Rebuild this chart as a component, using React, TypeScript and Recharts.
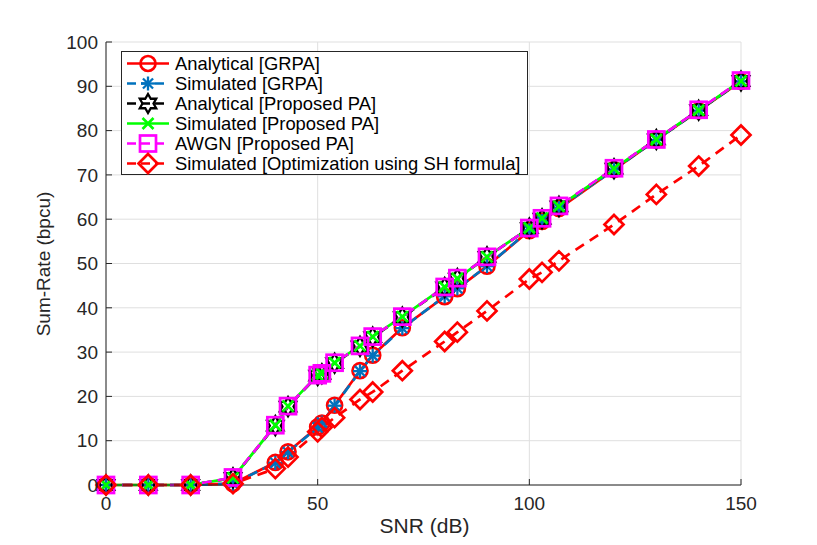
import React from 'react';
import { LineChart, Line, XAxis, YAxis, CartesianGrid, Legend, Label } from 'recharts';

// SNR points (dB)
const snr = [0, 10, 20, 30, 40, 43, 50, 51, 54, 60, 63, 70, 80, 83, 90, 100, 103, 107, 120, 130, 140, 150];

// sum-rate values (bpcu)
const analyticalGrpa = [0, 0, 0, 0.3, 5.1, 7.5, 13.1, 14.0, 18.0, 25.8, 29.3, 35.5, 42.5, 44.3, 49.4, 57.4, 59.5, 62.4, 71.2, 77.9, 84.5, 91.1];
const simulatedGrpa = [0, 0, 0, 0.3, 5.0, 7.4, 13.0, 14.1, 17.9, 25.7, 29.2, 35.4, 42.6, 44.4, 49.4, 57.5, 59.6, 62.5, 71.2, 77.9, 84.5, 91.1];
const analyticalProposed = [0, 0, 0, 1.6, 13.4, 17.7, 24.7, 25.1, 27.5, 31.3, 33.4, 37.9, 44.6, 46.6, 51.5, 58.0, 60.1, 62.9, 71.4, 78.0, 84.6, 91.2];
const simulatedProposed = [0, 0, 0, 1.6, 13.5, 17.8, 24.8, 25.1, 27.6, 31.4, 33.5, 38.0, 44.7, 46.6, 51.5, 58.0, 60.2, 62.9, 71.4, 78.0, 84.6, 91.2];
const awgnProposed = [0, 0, 0, 1.7, 13.5, 17.8, 24.8, 25.2, 27.6, 31.4, 33.5, 38.0, 44.7, 46.7, 51.5, 58.0, 60.2, 63.0, 71.5, 78.0, 84.7, 91.3];
const shFormula = [0, 0, 0, 0.3, 3.7, 6.3, 12.0, 13.0, 15.2, 19.3, 21.0, 25.8, 32.4, 34.5, 39.3, 46.5, 48.0, 50.6, 58.8, 65.6, 72.0, 79.0];

const xTicks = [0, 50, 100, 150];
const yTicks = [0, 10, 20, 30, 40, 50, 60, 70, 80, 90, 100];

const data = snr.map((s, i) => ({
  snr: s,
  agrpa: analyticalGrpa[i],
  sgrpa: simulatedGrpa[i],
  aprop: analyticalProposed[i],
  sprop: simulatedProposed[i],
  awgn: awgnProposed[i],
  sh: shFormula[i],
}));

const FONT = '"Liberation Sans", Arial, Helvetica, sans-serif';
const AXIS = '#262626';
const RED = '#ff0000';
const BLUE = '#0072bd';
const GREEN = '#00ff00';
const MAGENTA = '#ff00ff';

type MarkerKind = 'circle' | 'asterisk' | 'hexagram' | 'x' | 'square' | 'diamond';

function Marker({ kind, cx, cy, color }: { kind: MarkerKind; cx: number; cy: number; color: string }) {
  const sw = 2.7;
  if (kind === 'circle') {
    return <circle cx={cx} cy={cy} r={7.5} fill="none" stroke={color} strokeWidth={sw} />;
  }
  if (kind === 'asterisk') {
    const h = 7;
    const d = h * 0.72;
    return (
      <g stroke={color} strokeWidth={2.3}>
        <line x1={cx - h} y1={cy} x2={cx + h} y2={cy} />
        <line x1={cx} y1={cy - h} x2={cx} y2={cy + h} />
        <line x1={cx - d} y1={cy - d} x2={cx + d} y2={cy + d} />
        <line x1={cx - d} y1={cy + d} x2={cx + d} y2={cy - d} />
      </g>
    );
  }
  if (kind === 'hexagram') {
    const pts: string[] = [];
    for (let k = 0; k < 12; k++) {
      const r = k % 2 === 0 ? 9.5 : 5.5;
      const a = (Math.PI / 6) * k - Math.PI / 2;
      pts.push(`${cx + r * Math.cos(a)},${cy + r * Math.sin(a)}`);
    }
    return <polygon points={pts.join(' ')} fill="none" stroke={color} strokeWidth={2.3} />;
  }
  if (kind === 'x') {
    const h = 5.5;
    return (
      <g stroke={color} strokeWidth={2.7}>
        <line x1={cx - h} y1={cy - h} x2={cx + h} y2={cy + h} />
        <line x1={cx - h} y1={cy + h} x2={cx + h} y2={cy - h} />
      </g>
    );
  }
  if (kind === 'square') {
    return <rect x={cx - 8} y={cy - 8} width={16} height={16} fill="none" stroke={color} strokeWidth={sw} />;
  }
  const h = 9.5;
  return (
    <polygon
      points={`${cx},${cy - h} ${cx + h},${cy} ${cx},${cy + h} ${cx - h},${cy}`}
      fill="none"
      stroke={color}
      strokeWidth={sw}
    />
  );
}

const dotFor = (kind: MarkerKind, color: string) => (props: any) => {
  const { cx, cy, index } = props;
  if (cx == null || cy == null) return <g key={index} />;
  return <Marker key={index} kind={kind} cx={cx} cy={cy} color={color} />;
};

const series = [
  { key: 'agrpa', name: 'Analytical [GRPA]', color: RED, dash: undefined, marker: 'circle' as MarkerKind },
  { key: 'sgrpa', name: 'Simulated [GRPA]', color: BLUE, dash: '10 6', marker: 'asterisk' as MarkerKind },
  { key: 'aprop', name: 'Analytical [Proposed PA]', color: '#000000', dash: '10 6', marker: 'hexagram' as MarkerKind },
  { key: 'sprop', name: 'Simulated [Proposed PA]', color: GREEN, dash: undefined, marker: 'x' as MarkerKind },
  { key: 'awgn', name: 'AWGN [Proposed PA]', color: MAGENTA, dash: '10 6', marker: 'square' as MarkerKind },
  { key: 'sh', name: 'Simulated [Optimization using SH formula]', color: RED, dash: '10 7', marker: 'diamond' as MarkerKind },
];

function LegendBox() {
  return (
    <svg width={408} height={125} style={{ display: 'block' }}>
      <rect x={0.5} y={0.5} width={406} height={123} fill="#ffffff" stroke={AXIS} strokeWidth={1} />
      {series.map((s, i) => {
        const y = 12.5 + i * 20;
        return (
          <g key={s.key}>
            <line x1={6} y1={y} x2={48} y2={y} stroke={s.color} strokeWidth={2.7} strokeDasharray={s.dash ? '9 5' : undefined} />
            <Marker kind={s.marker} cx={27} cy={y} color={s.color} />
            <text x={54} y={y + 6.5} fontSize={18.4} fontFamily={FONT} fill="#000000">
              {s.name}
            </text>
          </g>
        );
      })}
    </svg>
  );
}

export default function App() {
  return (
    <div style={{ position: 'absolute', left: 0, top: 0, width: 817, height: 545, background: '#ffffff' }}>
      <LineChart width={817} height={545} data={data} margin={{ top: 42, right: 76, bottom: 0, left: 0 }}>
        <CartesianGrid xAxisId="b" yAxisId="l" stroke="#dfdfdf" strokeWidth={1} />
        <XAxis
          xAxisId="b"
          dataKey="snr"
          type="number"
          domain={[0, 150]}
          ticks={xTicks}
          height={60}
          tickSize={-6}
          tickMargin={17.5}
          stroke={AXIS}
          tick={{ fontSize: 19, fontFamily: FONT, fill: AXIS }}
        >
          <Label
            content={() => (
              <text x={424.5} y={533} textAnchor="middle" fontSize={21} fontFamily={FONT} fill={AXIS}>
                SNR (dB)
              </text>
            )}
          />
        </XAxis>
        <XAxis
          xAxisId="t"
          orientation="top"
          dataKey="snr"
          type="number"
          domain={[0, 150]}
          ticks={xTicks}
          height={0}
          tickSize={-6}
          tick={false}
          stroke={AXIS}
        />
        <YAxis
          yAxisId="l"
          type="number"
          domain={[0, 100]}
          ticks={yTicks}
          width={106}
          tickSize={-6}
          tickMargin={14}
          stroke={AXIS}
          tick={{ fontSize: 19, fontFamily: FONT, fill: AXIS }}
        >
          <Label
            content={() => (
              <text
                x={50}
                y={264}
                transform="rotate(-90, 50, 264)"
                textAnchor="middle"
                fontSize={19}
                fontFamily={FONT}
                fill={AXIS}
              >
                Sum-Rate (bpcu)
              </text>
            )}
          />
        </YAxis>
        <YAxis
          yAxisId="r"
          orientation="right"
          type="number"
          domain={[0, 100]}
          ticks={yTicks}
          width={0}
          tickSize={-6}
          tick={false}
          stroke={AXIS}
        />
        {series.map((s) => (
          <Line
            key={s.key}
            xAxisId="b"
            yAxisId="l"
            type="linear"
            dataKey={s.key}
            name={s.name}
            stroke={s.color}
            strokeWidth={2.7}
            strokeDasharray={s.dash}
            dot={dotFor(s.marker, s.color)}
            activeDot={false}
            isAnimationActive={false}
          />
        ))}
        <Legend
          layout="vertical"
          align="center"
          verticalAlign="middle"
          wrapperStyle={{ left: 121, top: 51, width: 408, height: 125 }}
          content={() => <LegendBox />}
        />
      </LineChart>
    </div>
  );
}
